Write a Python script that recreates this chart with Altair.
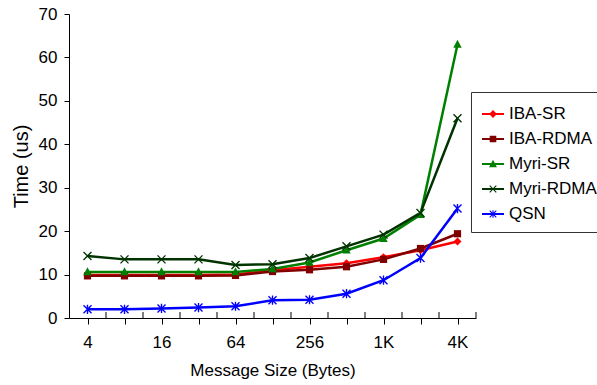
import math
import altair as alt
import pandas as pd

# ---------------- data ----------------
sizes = ["4", "8", "16", "32", "64", "128", "256", "512", "1K", "2K", "4K"]
shown_labels = ["4", "16", "64", "256", "1K", "4K"]
series_names = ["IBA-SR", "IBA-RDMA", "Myri-SR", "Myri-RDMA", "QSN"]

iba_sr = [9.9, 9.9, 9.9, 9.9, 10.0, 11.0, 11.8, 12.6, 14.0, 15.6, 17.6]
iba_rdma = [9.7, 9.7, 9.7, 9.7, 9.8, 10.7, 11.1, 11.8, 13.5, 16.0, 19.4]
myri_sr = [10.6, 10.6, 10.6, 10.6, 10.6, 11.3, 12.8, 15.6, 18.3, 23.8, 63.0]
myri_rdma = [14.3, 13.5, 13.5, 13.5, 12.2, 12.4, 13.8, 16.5, 19.2, 24.2, 46.0]
qsn = [2.0, 2.0, 2.2, 2.4, 2.7, 4.1, 4.2, 5.6, 8.7, 13.8, 25.2]

colors = ["#ff0000", "#800000", "#008000", "#003300", "#0000ff"]

all_values = [iba_sr, iba_rdma, myri_sr, myri_rdma, qsn]
rows = []
for name, vals in zip(series_names, all_values):
    for s, v in zip(sizes, vals):
        rows.append({"size": s, "time": v, "series": name})
df = pd.DataFrame(rows)


# ---------------- marker shapes (SVG paths) ----------------
def poly(pts):
    area = 0.0
    for i in range(len(pts)):
        x1, y1 = pts[i]
        x2, y2 = pts[(i + 1) % len(pts)]
        area += x1 * y2 - x2 * y1
    if area < 0:
        pts = list(reversed(pts))
    return "M" + "L".join(f"{x:.4f},{y:.4f}" for x, y in pts) + "Z"


def bar(x1, y1, x2, y2, h):
    dx, dy = x2 - x1, y2 - y1
    L = math.hypot(dx, dy)
    nx, ny = -dy / L * h, dx / L * h
    return poly([(x1 + nx, y1 + ny), (x2 + nx, y2 + ny), (x2 - nx, y2 - ny), (x1 - nx, y1 - ny)])


def diamond(r):
    return poly([(0, -r), (r, 0), (0, r), (-r, 0)])


def square(r):
    return poly([(-r, -r), (r, -r), (r, r), (-r, r)])


def triangle(r):
    return poly([(0, -r * 1.1), (r, r * 0.8), (-r, r * 0.8)])


def xmark(r, h):
    return bar(-r, -r, r, r, h) + bar(-r, r, r, -r, h)


def star(r, h):
    return xmark(r, h) + bar(0, -r * 1.15, 0, r * 1.15, h)


chart_shapes = [diamond(1.0), square(0.9), triangle(1.05), xmark(1.0, 0.17), star(1.0, 0.17)]
legend_line = bar(-1, 0, 1, 0, 0.1)
legend_shapes = [
    legend_line + diamond(0.36),
    legend_line + square(0.3),
    legend_line + triangle(0.36),
    legend_line + xmark(0.3, 0.05),
    legend_line + star(0.3, 0.05),
]

FONT = "Liberation Sans"
W, H = 407, 304
STEP = W / len(sizes)

# upward minor tick drawn half a step to the right of each category point:
# symbol radius = STEP/2, so x = 1 in path units is the category boundary
TICK_R = STEP / 2
up_tick_shape = poly([
    (1 - 0.5 / TICK_R, -6 / TICK_R),
    (1 + 0.5 / TICK_R, -6 / TICK_R),
    (1 + 0.5 / TICK_R, 0),
    (1 - 0.5 / TICK_R, 0),
])

label_expr = "indexof(" + str(shown_labels) + ", datum.value) >= 0 ? datum.value : ''"

x_scale = alt.Scale(type="point", padding=0.5, domain=sizes)
y_scale = alt.Scale(domain=[0, 70], nice=False)

x_axis = alt.Axis(
    title="Message Size (Bytes)",
    labelExpr=label_expr,
    labelAngle=0,
    tickSize=6,
    labelPadding=10,
    titlePadding=12,
    grid=False,
)
y_axis = alt.Axis(
    values=[0, 10, 20, 30, 40, 50, 60, 70],
    title="Time (us)",
    tickSize=5,
    labelPadding=7,
    titlePadding=7,
    titleFontSize=20,
    grid=False,
)
x_enc = alt.X("size:O", sort=sizes, scale=x_scale, axis=x_axis)
y_enc = alt.Y("time:Q", scale=y_scale, axis=y_axis)

base = alt.Chart(df)

layers = []
for name, col in zip(series_names, colors):
    layers.append(
        base.transform_filter(alt.datum.series == name)
        .mark_line(strokeWidth=2.5, color=col)
        .encode(x=x_enc, y=y_enc)
    )
for name, col, shp in zip(series_names, colors, chart_shapes):
    layers.append(
        base.transform_filter(alt.datum.series == name)
        .mark_point(shape=shp, filled=True, size=64, opacity=1, color=col)
        .encode(x=x_enc, y=y_enc)
    )

# upward minor ticks at category boundaries (one per category)
layers.append(
    base.transform_filter(alt.datum.series == series_names[0])
    .transform_calculate(zero="0")
    .mark_point(shape=up_tick_shape, filled=True, size=(2 * TICK_R) ** 2,
                opacity=1, color="black")
    .encode(x=x_enc, y=alt.Y("zero:Q", scale=y_scale, axis=y_axis))
)

# legend-only layer: no rows drawn, legend entries come from the explicit scale domain
legend_layer = base.transform_filter("false").mark_point(filled=True, opacity=1).encode(
    x=x_enc,
    y=y_enc,
    color=alt.Color(
        "series:N",
        scale=alt.Scale(domain=series_names, range=colors),
        legend=alt.Legend(
            title=None,
            orient="none",
            legendX=402,
            legendY=78,
            symbolOpacity=1,
        ),
    ),
    shape=alt.Shape(
        "series:N",
        scale=alt.Scale(domain=series_names, range=legend_shapes),
    ),
)
layers.append(legend_layer)

chart = (
    alt.layer(*layers)
    .properties(
        width=W,
        height=H,
        autosize=alt.AutoSizeParams(type="none"),
        padding={"left": 69, "top": 14, "right": 121, "bottom": 67},
    )
    .configure_view(stroke=None)
    .configure_axis(
        labelFont=FONT,
        titleFont=FONT,
        labelFontSize=17,
        titleFontSize=17,
        titleFontWeight="normal",
        labelColor="black",
        titleColor="black",
        domainColor="black",
        tickColor="black",
        domainWidth=1,
        tickWidth=1,
    )
    .configure_legend(
        labelFont=FONT,
        labelFontSize=17,
        labelColor="black",
        strokeColor="#333333",
        strokeWidth=1,
        fillColor="white",
        padding=10,
        rowPadding=5,
        symbolSize=484,
        labelOffset=4,
    )
)

chart.save("out.html", embed_options={"renderer": "svg", "actions": False})
